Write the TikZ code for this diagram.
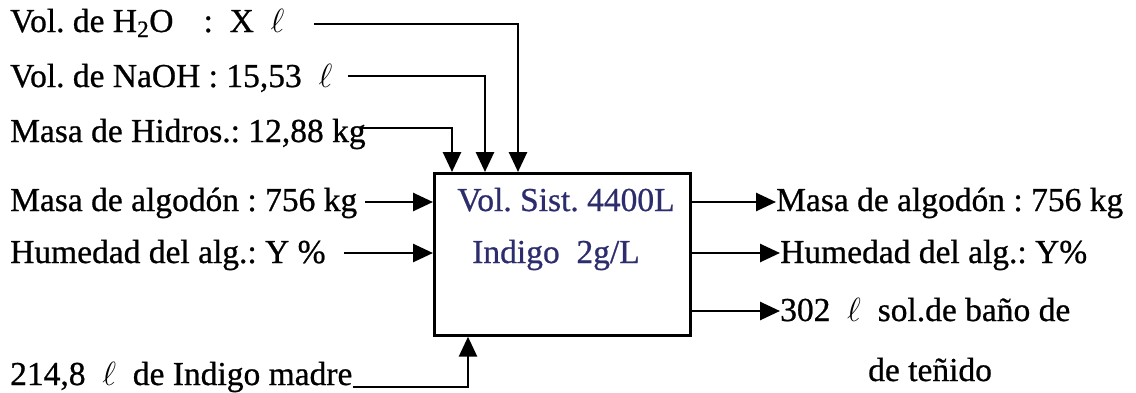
\RequirePackage{fix-cm}
\documentclass[tikz,border=0pt]{standalone}
\usepackage{fontspec}
\setmainfont{Liberation Serif}[FakeBold=0.7]
\frenchspacing
\usetikzlibrary{arrows.meta}
\definecolor{boxtext}{RGB}{45,45,110}
\begin{document}
\begin{tikzpicture}[x=1pt,y=-1pt,
  lbl/.style={inner sep=0pt, anchor=base west, font=\fontsize{33.5}{40}\selectfont},
  inbox/.style={inner sep=0pt, anchor=base, text=boxtext, font=\fontsize{33.5}{40}\selectfont},
  conn/.style={line width=2.7pt, -{Triangle[length=20pt,width=18pt]}},
  procbox/.style={draw, line width=2.7pt, minimum width=256pt, minimum height=162pt, anchor=north west, inner sep=0pt}]
\useasboundingbox (0,0) rectangle (1136,392);
% process box
\node[procbox] (box) at (433,172) {};
\node[inbox] (v) at (566,211) {Vol. Sist. 4400L};
\node[inbox] (ind) at (556,263) {Indigo\ \ 2g/L};
% left inputs
\node[lbl] (r1) at (10,32) {Vol. de H\textsubscript{2}O\hspace{0.9em}:\ \ X\ \ $\ell$};
\node[lbl] (r2) at (10,87) {Vol. de NaOH : 15,53\ \ $\ell$};
\node[lbl] (r3) at (10,142) {Masa de Hidros.: 12,88 kg};
\node[lbl] (r4) at (10,211) {Masa de algodón : 756 kg};
\node[lbl] (r5) at (10,263) {Humedad del alg.: Y \%};
\node[lbl] (r6) at (10,385) {214,8\ \ $\ell$\ \ de Indigo madre};
% right outputs
\node[lbl] (o1) at (776,211) {Masa de algodón : 756 kg};
\node[lbl] (o2) at (780,263) {Humedad del alg.: Y\%};
\node[lbl] (o3) at (780,321) {302\ \ $\ell$\ \ sol.de baño de};
\node[lbl] (o4) at (868,381) {de teñido};
% connector coordinates
\coordinate (s1) at (314,24);
\coordinate (s2) at (348,76);
\coordinate (s3) at (362,128);
\coordinate (s4) at (365,202);
\coordinate (s5) at (344,253);
\coordinate (s6) at ([yshift=-2pt]r6.base east);
\coordinate (t1) at ([xshift=19pt]box.north west);
\coordinate (t2) at ([xshift=52pt]box.north west);
\coordinate (t3) at ([xshift=85pt]box.north west);
\coordinate (b1) at ([xshift=35pt]box.south west);
\coordinate (e1) at ([yshift=9pt]o1.base west);
\coordinate (e2) at ([yshift=10pt]o2.base west);
\coordinate (e3) at ([yshift=10pt]o3.base west);
% connectors
\draw[conn] (s1) -| (t3);
\draw[conn] (s2) -| (t2);
\draw[conn] (s3) -| (t1);
\draw[conn] (s4) -- (box.west |- s4);
\draw[conn] (s5) -- (box.west |- s5);
\draw[conn] (s6) -| (b1);
\draw[conn] (box.east |- e1) -- (e1);
\draw[conn] (box.east |- e2) -- (e2);
\draw[conn] (box.east |- e3) -- (e3);
\end{tikzpicture}
\end{document}
